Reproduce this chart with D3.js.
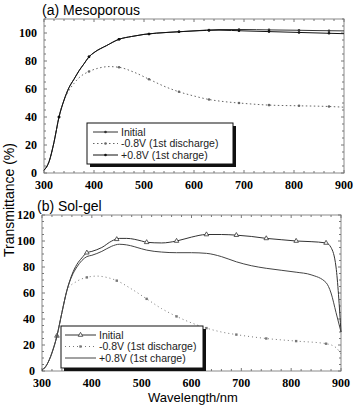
<!DOCTYPE html>
<html>
<head>
<meta charset="utf-8">
<script src="https://cdn.jsdelivr.net/npm/d3@7/dist/d3.min.js"></script>
<style>
  body { margin: 0; background: #fff; }
  svg { display: block; }
</style>
</head>
<body>
<svg id="svg" width="354" height="405"></svg>
<script>
// wavelengths (nm) and transmittance (%)
var waveA = [300, 310, 320, 330, 340, 350, 360, 370, 380, 390, 400, 425, 450, 475, 500, 550, 600, 650, 700, 750, 800, 850, 900];
var initialA = [2, 8, 22, 40, 52, 61, 67, 73, 78, 83, 86, 91, 95.5, 97.5, 99, 100.5, 101.5, 102.5, 102.5, 102.2, 102, 101.7, 101.5];
var chargeA  = [2, 8, 22, 40, 52, 61, 67, 73, 78, 83, 86, 91, 95.5, 97.5, 99, 100.5, 101.5, 102, 101.5, 101, 100.5, 100, 99.5];
var waveA2 = [300, 310, 320, 330, 340, 350, 360, 370, 390, 410, 430, 450, 480, 510, 540, 570, 600, 630, 660, 690, 750, 810, 870, 900];
var dischargeA = [2, 8, 22, 40, 52, 59, 64, 68, 72.5, 75, 76, 75.5, 72, 67, 62, 58, 55, 52.5, 51, 50, 48.5, 48, 47.5, 47];

var waveB = [300, 310, 320, 330, 340, 350, 360, 370, 380, 390, 400, 420, 440, 455, 470, 500, 510, 540, 570, 600, 630, 660, 690, 720, 750, 780, 810, 840, 870, 880, 890, 900];
var initialB = [0.5, 5, 14, 27, 45, 62, 74, 82, 87, 91, 92, 95, 100, 102, 102, 100, 99, 98.5, 100, 103, 105, 105, 104.5, 103.5, 102, 101, 100, 99.5, 98.5, 95, 80, 30];
var chargeB  = [0.5, 5, 14, 27, 45, 62, 73, 80, 85, 88, 89, 92, 96, 97.5, 97, 94, 93, 91.5, 91, 91, 90.5, 88, 84, 81, 79, 77.5, 76, 74, 68, 60, 45, 30];
var waveB2 = [300, 310, 320, 330, 340, 350, 370, 390, 410, 430, 450, 480, 510, 540, 570, 600, 630, 660, 690, 750, 810, 870, 890, 900];
var dischargeB = [0.5, 5, 14, 27, 45, 62, 69, 72, 73, 72, 69.5, 63, 55.5, 48, 42, 37, 33, 30, 28, 25, 23, 21, 18, 13];

var markWave = [330, 390, 450, 510, 570, 630, 690, 750, 810, 870];
var xTicks = [300, 400, 500, 600, 700, 800, 900];

var svg = d3.select("#svg");

function drawPanel(p) {
  var x = d3.scaleLinear().domain([300, 900]).range([p.left, p.right]);
  var y = d3.scaleLinear().domain([0, p.ymax]).range([p.bottom, p.top]);
  var g = svg.append("g");

  // frame with inward ticks on all four sides
  g.append("rect")
    .attr("x", p.left).attr("y", p.top)
    .attr("width", p.right - p.left).attr("height", p.bottom - p.top)
    .attr("fill", "none").attr("stroke", "#8a8a8a").attr("stroke-width", 1);

  var minorX = d3.range(300, 901, 20);
  var minorY = d3.range(0, p.ymax + 0.1, 5);
  minorX.forEach(function (v) {
    var len = v % 100 === 0 ? 3 : 2;
    g.append("line").attr("x1", x(v)).attr("x2", x(v)).attr("y1", p.bottom).attr("y2", p.bottom - len).attr("stroke", "#777");
    g.append("line").attr("x1", x(v)).attr("x2", x(v)).attr("y1", p.top).attr("y2", p.top + len).attr("stroke", "#777");
  });
  minorY.forEach(function (v) {
    var len = v % 20 === 0 ? 3 : 2;
    g.append("line").attr("x1", p.left).attr("x2", p.left + len).attr("y1", y(v)).attr("y2", y(v)).attr("stroke", "#777");
    g.append("line").attr("x1", p.right).attr("x2", p.right - len).attr("y1", y(v)).attr("y2", y(v)).attr("stroke", "#777");
  });

  // tick labels
  xTicks.forEach(function (v) {
    g.append("text").attr("x", x(v)).attr("y", p.bottom + 16)
      .attr("text-anchor", "middle")
      .style("font", "bold 12px 'Liberation Serif', serif")
      .text(v);
  });
  d3.range(0, p.ymax + 0.1, 20).forEach(function (v) {
    g.append("text").attr("x", p.left - 7).attr("y", y(v) + 4)
      .attr("text-anchor", "end")
      .style("font", "bold 12px 'Liberation Serif', serif")
      .text(v);
  });

  g.append("text").attr("x", p.titleX).attr("y", p.titleY)
    .style("font", "14px 'Liberation Sans', Arial, sans-serif")
    .text(p.title);

  var line = d3.line().curve(d3.curveMonotoneX);
  p.series.forEach(function (s) {
    var pts = s.wave.map(function (w, i) { return [x(w), y(s.values[i])]; });
    g.append("path").attr("d", line(pts))
      .attr("fill", "none")
      .attr("stroke", s.color)
      .attr("stroke-width", s.width)
      .attr("stroke-dasharray", s.dash || null);
    if (s.marker) {
      var interp = d3.scaleLinear().domain(s.wave).range(s.values);
      markWave.forEach(function (w) {
        drawMarker(g, s.marker, x(w), y(interp(w)), s.color);
      });
    }
  });

  // legend with drop shadow
  var L = p.legend;
  g.append("rect").attr("x", L.x + 3).attr("y", L.y + 3).attr("width", L.w).attr("height", L.h).attr("fill", "#111");
  g.append("rect").attr("x", L.x).attr("y", L.y).attr("width", L.w).attr("height", L.h)
    .attr("fill", "#fff").attr("stroke", "#111").attr("stroke-width", 1);
  p.series.forEach(function (s, i) {
    var ly = L.y + L.row0 + i * L.step;
    g.append("line").attr("x1", L.x + L.lx1).attr("x2", L.x + L.lx2).attr("y1", ly).attr("y2", ly)
      .attr("stroke", s.color).attr("stroke-width", s.width).attr("stroke-dasharray", s.dash || null);
    if (s.marker) drawMarker(g, s.marker, L.x + (L.lx1 + L.lx2) / 2, ly, s.color);
    g.append("text").attr("x", L.x + L.lx2 + 3).attr("y", ly + 3.5)
      .attr("fill", "#222")
      .style("font", L.font + " 'Liberation Sans', Arial, sans-serif")
      .text(s.name);
  });
}

function drawMarker(g, kind, cx, cy, color) {
  if (kind === "dot") {
    g.append("circle").attr("cx", cx).attr("cy", cy).attr("r", 1.3).attr("fill", color);
  } else if (kind === "square") {
    g.append("rect").attr("x", cx - 1.2).attr("y", cy - 1.2).attr("width", 2.4).attr("height", 2.4).attr("fill", color);
  } else if (kind === "triangle") {
    g.append("path").attr("d", d3.symbol().type(d3.symbolTriangle).size(9)())
      .attr("transform", "translate(" + cx + "," + cy + ")")
      .attr("fill", "#fff").attr("stroke", color).attr("stroke-width", 0.8);
  }
}

drawPanel({
  left: 44, right: 344, top: 19, bottom: 173, ymax: 110,
  title: "(a) Mesoporous", titleX: 42, titleY: 15,
  series: [
    { name: "Initial", wave: waveA, values: initialA, color: "#333", width: 1, marker: "dot" },
    { name: "-0.8V (1st discharge)", wave: waveA2, values: dischargeA, color: "#666", width: 1, dash: "1.5,2.5", marker: "dot" },
    { name: "+0.8V (1st charge)", wave: waveA, values: chargeA, color: "#111", width: 1, marker: "dot" }
  ],
  legend: { x: 87, y: 123, w: 146, h: 41, row0: 9, step: 11.5, lx1: 6, lx2: 31, font: "10.5px" }
});

drawPanel({
  left: 42, right: 341, top: 215, bottom: 371, ymax: 120,
  title: "(b) Sol-gel", titleX: 37, titleY: 211,
  series: [
    { name: "Initial", wave: waveB, values: initialB, color: "#333", width: 1, marker: "triangle" },
    { name: "-0.8V (1st discharge)", wave: waveB2, values: dischargeB, color: "#777", width: 1, dash: "1,3", marker: "square" },
    { name: "+0.8V (1st charge)", wave: waveB, values: chargeB, color: "#444", width: 1 }
  ],
  legend: { x: 61, y: 326, w: 142, h: 42, row0: 9, step: 11.5, lx1: 4, lx2: 35, font: "10.5px" }
});

svg.append("text")
  .attr("transform", "translate(14,200) rotate(-90)")
  .attr("text-anchor", "middle")
  .style("font", "14px 'Liberation Sans', Arial, sans-serif")
  .text("Transmittance (%)");

svg.append("text")
  .attr("x", 193).attr("y", 402)
  .attr("text-anchor", "middle")
  .style("font", "13px 'Liberation Sans', Arial, sans-serif")
  .text("Wavelength/nm");
</script>
</body>
</html>
